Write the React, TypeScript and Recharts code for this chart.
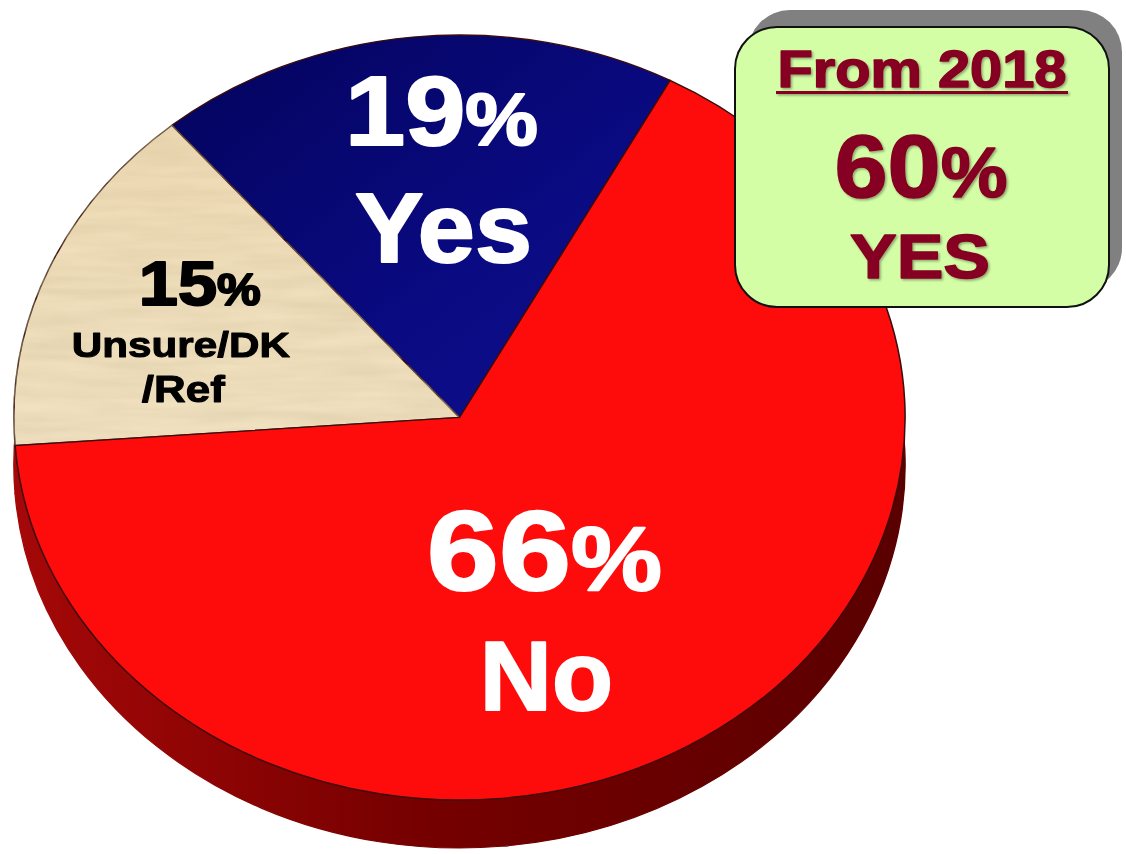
import React from "react";
import { PieChart, Pie, Cell } from "recharts";

// survey answers, in the order they run counter-clockwise from the Yes/No edge
const categories = ["Yes", "Unsure/DK/Ref", "No"];
const shares = [19, 15, 66];
const answerLines = [["Yes"], ["Unsure/DK", "/Ref"], ["No"]];

// call-out box figures
const priorTitle = "From 2018";
const priorYesShare = 60;
const priorYesWord = "YES";

const data = categories.map((name, i) => ({ name, value: shares[i] }));

// the pie is drawn as a circle and stretched sideways into an ellipse
const SX = 1.165;
const CHART_W = 1126 / SX;
const CX = 459.5 / SX;
const CY = 417.5;
const R = 382.5;
const DEPTH = 48;
const START = 61.8;

const topFills = ["url(#yesFill)", "url(#unsureFill)", "#fe0b0b"];
const labelColors = ["#ffffff", "#000000", "#ffffff"];
const FONT = '"Liberation Sans", Arial, sans-serif';

type Line = { dx: number; dy: number; size: number; len: number; pct?: number };
const labelLayout: { radius: number; shift: number; lines: Line[] }[] = [
  {
    radius: 0.562,
    shift: -2,
    lines: [
      { dx: -0.5, dy: -58, size: 98, pct: 74, len: 193 },
      { dx: 1.5, dy: 59, size: 98, len: 177 },
    ],
  },
  {
    radius: 0.642,
    shift: 8.05,
    lines: [
      { dx: 17, dy: -50, size: 63, pct: 44, len: 122 },
      { dx: -2, dy: 2, size: 35, len: 218 },
      { dx: 0.5, dy: 47, size: 37, len: 83 },
    ],
  },
  {
    radius: 0.637,
    shift: -15.5,
    lines: [
      { dx: -0.5, dy: -60, size: 114, pct: 90, len: 235 },
      { dx: 1.5, dy: 60, size: 98, len: 133 },
    ],
  },
];

const RAD = Math.PI / 180;

const renderLabel = (props: any) => {
  const { cx, cy, midAngle, outerRadius, index } = props;
  const spot = labelLayout[index];
  const a = (midAngle + spot.shift) * RAD;
  const x = cx + outerRadius * spot.radius * Math.cos(a);
  const y = cy - outerRadius * spot.radius * Math.sin(a);
  const words = answerLines[index];
  return (
    <g transform={`translate(${x} ${y}) scale(${1 / SX} 1)`}>
      {spot.lines.map((ln, k) => (
        <text
          key={k}
          x={ln.dx}
          y={ln.dy}
          textAnchor="middle"
          fontFamily={FONT}
          fontWeight={700}
          fontSize={ln.size}
          fill={labelColors[index]}
          stroke={labelColors[index]}
          strokeWidth={ln.size > 60 ? 2 : 1}
          strokeLinejoin="round"
          textLength={ln.len}
          lengthAdjust="spacingAndGlyphs"
        >
          {k === 0 ? (
            <>
              {shares[index]}
              <tspan fontSize={ln.pct}>%</tspan>
            </>
          ) : (
            words[k - 1]
          )}
        </text>
      ))}
    </g>
  );
};

const PriorBox = () => (
  <svg
    width={1126}
    height={854}
    style={{ position: "absolute", left: 0, top: 0, pointerEvents: "none" }}
  >
    <defs>
      <filter id="boxTextShadow" x="-10%" y="-10%" width="120%" height="130%">
        <feDropShadow dx="1.5" dy="1.5" stdDeviation="1" floodColor="#000" floodOpacity="0.35" />
      </filter>
    </defs>
    <rect x={748} y={10} width={374} height={280} rx={42} fill="#808080" />
    <rect x={735} y={27} width={374} height={280} rx={42} fill="#d3fea6" stroke="#111" strokeWidth={2} />
    <g
      fill="#850020"
      stroke="#850020"
      strokeWidth={1.5}
      strokeLinejoin="round"
      fontFamily={FONT}
      fontWeight={700}
      filter="url(#boxTextShadow)"
    >
      <text x={922} y={87} textAnchor="middle" fontSize={52} textLength={289} lengthAdjust="spacingAndGlyphs">
        {priorTitle}
      </text>
      <rect x={776} y={91} width={292} height={3} stroke="none" />
      <text x={921} y={197} textAnchor="middle" fontSize={89} textLength={173} lengthAdjust="spacingAndGlyphs">
        {priorYesShare}
        <tspan fontSize={70}>%</tspan>
      </text>
      <text x={920} y={278} textAnchor="middle" fontSize={63} textLength={140} lengthAdjust="spacingAndGlyphs">
        {priorYesWord}
      </text>
    </g>
  </svg>
);

export default function App() {
  return (
    <div style={{ position: "absolute", left: 0, top: 0, width: 1126, height: 854, background: "#fff", overflow: "hidden" }}>
      <div style={{ transform: `scaleX(${SX})`, transformOrigin: "0 0", width: CHART_W, height: 854 }}>
        <PieChart width={CHART_W} height={854} margin={{ top: 0, right: 0, bottom: 0, left: 0 }}>
          <defs>
            <linearGradient id="rimFill" x1="0" y1="0" x2="1" y2="0">
              <stop offset="0%" stopColor="#a50808" />
              <stop offset="45%" stopColor="#760000" />
              <stop offset="100%" stopColor="#5a0000" />
            </linearGradient>
            <linearGradient id="yesFill" x1="0" y1="0" x2="1" y2="1">
              <stop offset="0%" stopColor="#03035c" />
              <stop offset="60%" stopColor="#0a0a82" />
              <stop offset="100%" stopColor="#10108e" />
            </linearGradient>
            <linearGradient id="unsureFill" x1="0" y1="0" x2="0" y2="1">
              <stop offset="0%" stopColor="#efdcb5" />
              <stop offset="100%" stopColor="#f1e2c2" />
            </linearGradient>
            <filter id="parchment" x="0" y="0" width="100%" height="100%">
              <feTurbulence type="fractalNoise" baseFrequency="0.012 0.09" numOctaves="3" seed="4" result="noise" />
              <feColorMatrix
                in="noise"
                type="matrix"
                values="0 0 0 0 0.62  0 0 0 0 0.5  0 0 0 0 0.3  0 0 0 0.55 -0.12"
                result="tint"
              />
              <feComposite in="tint" in2="SourceGraphic" operator="in" result="grain" />
              <feMerge>
                <feMergeNode in="SourceGraphic" />
                <feMergeNode in="grain" />
              </feMerge>
            </filter>
          </defs>
          {/* side wall: the same pie pushed down */}
          <Pie
            data={data}
            dataKey="value"
            nameKey="name"
            cx={CX}
            cy={CY + DEPTH}
            outerRadius={R}
            startAngle={START}
            endAngle={START + 360}
            stroke="#2a0000"
            strokeWidth={1.2}
            isAnimationActive={false}
          >
            {data.map((d) => (
              <Cell key={d.name} fill="url(#rimFill)" stroke="url(#rimFill)" />
            ))}
          </Pie>
          <Pie
            data={data}
            dataKey="value"
            nameKey="name"
            cx={CX}
            cy={CY}
            outerRadius={R}
            startAngle={START}
            endAngle={START + 360}
            stroke="#3a0c0c"
            strokeWidth={1.3}
            label={renderLabel}
            labelLine={false}
            isAnimationActive={false}
          >
            {data.map((d, i) => (
              <Cell key={d.name} fill={topFills[i]} filter={i === 1 ? "url(#parchment)" : undefined} />
            ))}
          </Pie>
        </PieChart>
      </div>
      <PriorBox />
    </div>
  );
}
